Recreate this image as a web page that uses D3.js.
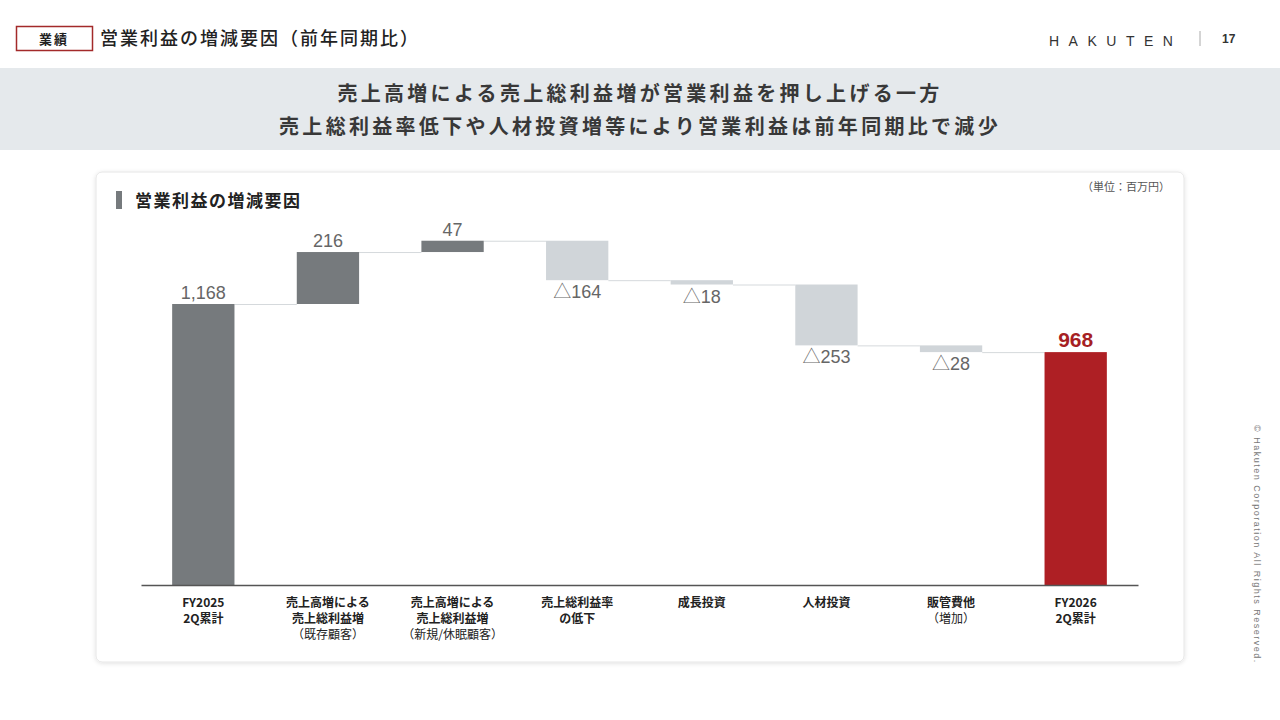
<!DOCTYPE html>
<html>
<head>
<meta charset="utf-8">
<script src="https://cdn.jsdelivr.net/npm/d3@7"></script>
<style>
  body { margin: 0; overflow: hidden; background: #fff; }
  text { font-family: "Noto Sans CJK JP", "Noto Sans", sans-serif; }
</style>
</head>
<body>
<script>
// Waterfall data (百万円)
const categories = [
  ['FY2025', '2Q累計'],
  ['売上高増による', '売上総利益増', '（既存顧客）'],
  ['売上高増による', '売上総利益増', '（新規/休眠顧客）'],
  ['売上総利益率', 'の低下'],
  ['成長投資'],
  ['人材投資'],
  ['販管費他', '（増加）'],
  ['FY2026', '2Q累計']
];
const changes = [1168, 216, 47, -164, -18, -253, -28, 968];
const kinds = ['total', 'up', 'up', 'down', 'down', 'down', 'down', 'final'];
const valueLabels = ['1,168', '216', '47', '△164', '△18', '△253', '△28', '968'];

const latin = '"Liberation Sans", Arial, sans-serif';
const width = 1280, height = 720;
const svg = d3.select('body').append('svg')
  .attr('width', width).attr('height', height);

const defs = svg.append('defs');
const f = defs.append('filter').attr('id', 'shadow')
  .attr('x', '-5%').attr('y', '-5%').attr('width', '110%').attr('height', '110%');
f.append('feDropShadow').attr('dx', 0).attr('dy', 1).attr('stdDeviation', 2)
  .attr('flood-color', '#000').attr('flood-opacity', 0.12);

// --- Header ---
svg.append('rect').attr('x', 16.5).attr('y', 26.5).attr('width', 76).attr('height', 24)
  .attr('fill', '#fff').attr('stroke', '#a32a2a').attr('stroke-width', 1.5);
svg.append('text').attr('x', 54).attr('y', 44).attr('text-anchor', 'middle')
  .attr('font-size', 13).attr('font-weight', 700).attr('fill', '#222')
  .attr('letter-spacing', 2).text('業績');
svg.append('text').attr('x', 100).attr('y', 45)
  .attr('font-size', 18).attr('font-weight', 500).attr('fill', '#222')
  .attr('letter-spacing', 2).text('営業利益の増減要因（前年同期比）');

svg.append('text').attr('x', 1049).attr('y', 46)
  .style('font-family', latin)
  .attr('font-size', 14).attr('fill', '#333').attr('letter-spacing', 9.5)
  .text('HAKUTEN');
svg.append('line').attr('x1', 1200).attr('x2', 1200).attr('y1', 31).attr('y2', 46)
  .attr('stroke', '#aaa').attr('stroke-width', 1);
svg.append('text').attr('x', 1222).attr('y', 43)
  .style('font-family', latin)
  .attr('font-size', 12).attr('font-weight', 700).attr('fill', '#333').text('17');

svg.append('rect').attr('x', 0).attr('y', 68).attr('width', width).attr('height', 82)
  .attr('fill', '#e5e9ec');
svg.append('text').attr('x', 640).attr('y', 101).attr('text-anchor', 'middle')
  .attr('font-size', 20).attr('font-weight', 700).attr('fill', '#383838')
  .attr('letter-spacing', 3.3).text('売上高増による売上総利益増が営業利益を押し上げる一方');
svg.append('text').attr('x', 640).attr('y', 134).attr('text-anchor', 'middle')
  .attr('font-size', 20).attr('font-weight', 700).attr('fill', '#383838')
  .attr('letter-spacing', 3.3).text('売上総利益率低下や人材投資増等により営業利益は前年同期比で減少');

// --- Card ---
svg.append('rect').attr('x', 96).attr('y', 172).attr('width', 1088).attr('height', 490)
  .attr('rx', 6).attr('fill', '#fff').attr('stroke', '#e6e6e6').attr('filter', 'url(#shadow)');
svg.append('rect').attr('x', 116).attr('y', 191).attr('width', 6).attr('height', 18).attr('fill', '#767a7d');
svg.append('text').attr('x', 135).attr('y', 207)
  .attr('font-size', 17).attr('font-weight', 700).attr('fill', '#222')
  .attr('letter-spacing', 1.5).text('営業利益の増減要因');
svg.append('text').attr('x', 1170).attr('y', 191).attr('text-anchor', 'end')
  .attr('font-size', 11).attr('fill', '#555').text('（単位：百万円）');

// --- Waterfall ---
let running = 0;
const rows = changes.map((v, i) => {
  let start, end;
  if (kinds[i] === 'total' || kinds[i] === 'final') { start = 0; end = v; running = v; }
  else { start = running; end = running + v; running = end; }
  return { i, start, end, kind: kinds[i], label: valueLabels[i] };
});

const x = d3.scaleBand().domain(d3.range(categories.length))
  .range([141, 1138]).paddingInner(0.5).paddingOuter(0.25);
const y = d3.scaleLinear().domain([0, 1168]).range([585, 304]);

const colour = { total: '#767a7d', up: '#767a7d', down: '#d0d5d9', final: '#ae1f24' };
const g = svg.append('g');

// connectors
g.selectAll('line.conn').data(rows.slice(0, -1)).join('line')
  .attr('class', 'conn')
  .attr('x1', d => x(d.i) + x.bandwidth())
  .attr('x2', d => x(d.i + 1))
  .attr('y1', d => y(d.end) + 0.5).attr('y2', d => y(d.end) + 0.5)
  .attr('stroke', '#d5d9dc').attr('stroke-width', 1);

g.selectAll('rect.bar').data(rows).join('rect')
  .attr('class', 'bar')
  .attr('x', d => x(d.i)).attr('width', x.bandwidth())
  .attr('y', d => y(Math.max(d.start, d.end)))
  .attr('height', d => Math.abs(y(d.start) - y(d.end)))
  .attr('fill', d => colour[d.kind]);

const vals = g.selectAll('text.val').data(rows).join('text')
  .attr('class', 'val')
  .attr('x', d => x(d.i) + x.bandwidth() / 2)
  .attr('y', d => d.kind === 'down' ? y(d.end) + 18 : y(Math.max(d.start, d.end)) - 5)
  .attr('text-anchor', 'middle')
  .style('font-family', latin)
  .attr('font-size', d => d.kind === 'final' ? 21 : 18)
  .attr('font-weight', d => d.kind === 'final' ? 700 : 400)
  .attr('fill', d => d.kind === 'final' ? '#a61f24' : '#666');
// the triangle sign comes from the CJK font, digits from the Latin one
vals.filter(d => d.label.startsWith('△')).append('tspan')
  .style('font-family', '"Noto Sans CJK JP", sans-serif').attr('font-weight', 300)
  .text('△');
vals.append('tspan').text(d => d.label.replace('△', ''));

// axis
const axis = d3.axisBottom(x).tickSize(0).tickFormat('');
const ax = svg.append('g').attr('transform', 'translate(0,585)').call(axis);
ax.select('.domain').attr('stroke', '#555').attr('stroke-width', 1.5);

const labels = svg.append('g').selectAll('text.cat').data(categories).join('text')
  .attr('class', 'cat')
  .attr('text-anchor', 'middle')
  .attr('font-size', 12).attr('font-weight', 700).attr('fill', '#222')
  .attr('transform', (d, i) => `translate(${x(i) + x.bandwidth() / 2},607)`);
labels.selectAll('tspan').data(d => d).join('tspan')
  .attr('x', 0).attr('dy', (d, i) => i === 0 ? 0 : 16)
  .attr('font-weight', d => d.startsWith('（') ? 400 : 700)
  .text(d => d);

// copyright
svg.append('text').attr('transform', 'translate(1254,425) rotate(90)')
  .style('font-family', latin)
  .attr('font-size', 9).attr('fill', '#777').attr('letter-spacing', 1.5)
  .text('© Hakuten Corporation All Rights Reserved.');
</script>
</body>
</html>
